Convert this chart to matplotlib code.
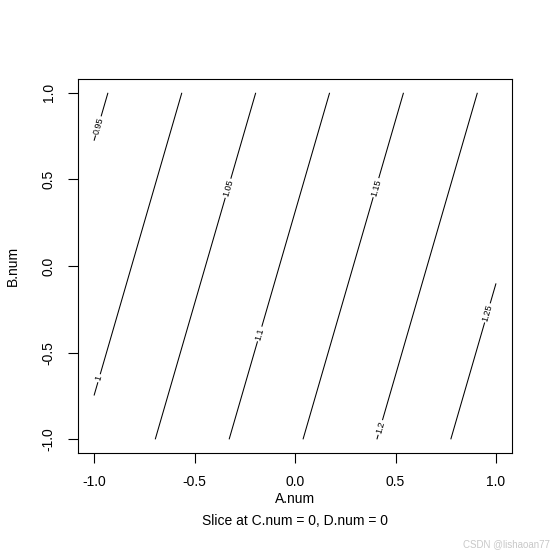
import numpy as np
import matplotlib
matplotlib.use('Agg')
import matplotlib.pyplot as plt

plt.rcParams['font.family'] = ['Liberation Sans', 'DejaVu Sans']

# fitted surface: z = b0 + bA*A + bB*B
coef_names = ['intercept', 'A.num', 'B.num']
coef_values = [1.1106, 0.136, -0.034]

levels = [0.95, 1.0, 1.05, 1.1, 1.15, 1.2, 1.25]
level_text = ['0.95', '1', '1.05', '1.1', '1.15', '1.2', '1.25']
ticks = [-1.0, -0.5, 0.0, 0.5, 1.0]
tick_labels = ['-1.0', '-0.5', '0.0', '0.5', '1.0']

# where the labels sit on each line
label_spots = [(-0.988, 0.812), (-0.973, -0.648), (-0.336, 0.450), (-0.182, -0.390),
               (0.395, 0.455), (0.420, -0.930), (0.953, -0.269)]

a = np.linspace(-1, 1, 201)
b = np.linspace(-1, 1, 201)
A, B = np.meshgrid(a, b)
Z = coef_values[0] + coef_values[1] * A + coef_values[2] * B

fig = plt.figure(figsize=(5.53, 5.52), dpi=100)
ax = fig.add_axes([0.141, 0.179, 0.785, 0.678])

cs = ax.contour(A, B, Z, levels=levels, colors='black', linewidths=0.75)
fmt = dict(zip(levels, level_text))
ax.clabel(cs, fmt=fmt, fontsize=6.5, inline=True, inline_spacing=2, manual=label_spots)

ax.set_xlim(-1.08, 1.08)
ax.set_ylim(-1.08, 1.08)
ax.set_xticks(ticks)
ax.set_xticklabels(tick_labels)
ax.set_yticks(ticks)
ax.set_yticklabels(tick_labels, rotation=90, va='center')
ax.tick_params(length=7, width=0.8, labelsize=10, pad=9)
for s in ax.spines.values():
    s.set_linewidth(0.8)

ax.set_xlabel('A.num\nSlice at C.num = 0, D.num = 0', fontsize=10, labelpad=2, linespacing=1.75)
ax.set_ylabel('B.num', fontsize=10, labelpad=16)

fig.text(0.995, 0.005, 'CSDN @lishaoan77', ha='right', va='bottom', fontsize=7, color='#c8c8c8')

fig.savefig('out.png', dpi=100)
